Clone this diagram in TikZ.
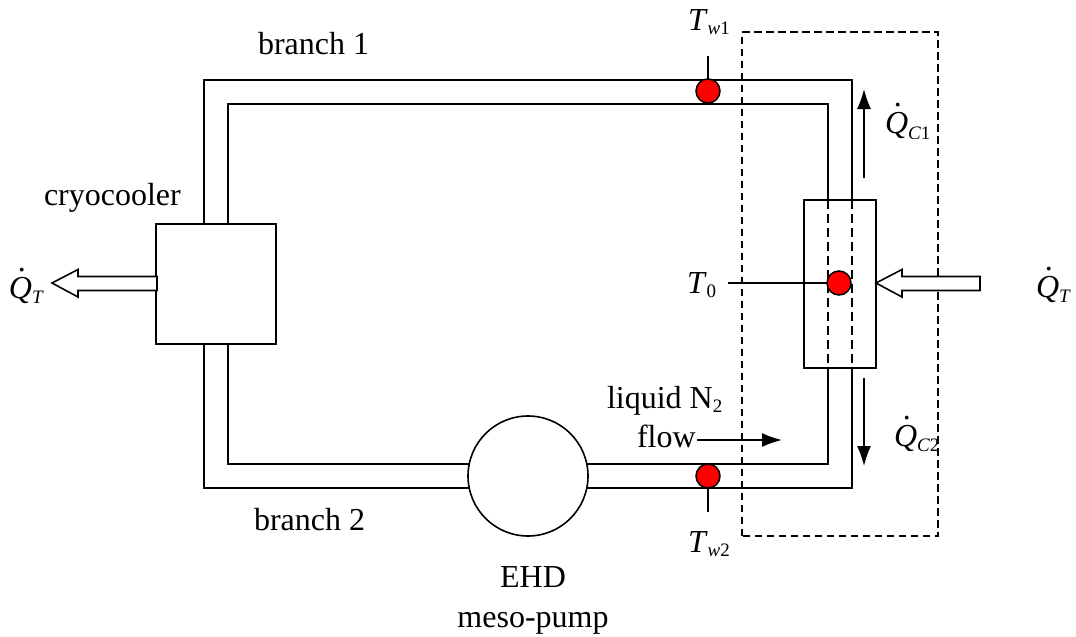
\documentclass[tikz,border=0pt]{standalone}
\usepackage{fontspec}
\setmainfont{Liberation Serif}
\usetikzlibrary{arrows.meta}
\newcommand{\subrun}[2]{\raisebox{-#1pt}{\fontsize{19}{19}\selectfont #2}}
\newcommand{\Qd}{\textit{\rlap{\hspace{.3em}\raisebox{.82em}{.}}Q}}
\tikzset{
  x=1pt,y=-1pt,
  pipe/.style={line width=1.7pt,line join=miter},
  hidden/.style={line width=1.5pt,dash pattern=on 9pt off 5pt},
  envelope/.style={line width=1.5pt,dash pattern=on 7.5pt off 4.5pt},
  block/.style={draw=black,line width=1.6pt,fill=white,minimum width=#1,inner sep=0pt,outer sep=0pt},
  sensor/.style={circle,draw=black,fill=red,line width=1.5pt,minimum size=24pt,inner sep=0pt,outer sep=0pt},
  lab/.style={inner sep=0pt,outer sep=0pt,anchor=base west,font=\fontsize{32}{32}\selectfont},
  labc/.style={inner sep=0pt,outer sep=0pt,anchor=base,font=\fontsize{32}{32}\selectfont},
  flowarrow/.style={line width=1.6pt,-{Latex[length=20pt,width=14pt]}},
  heatarrow/.style={draw=black,line width=1.6pt,fill=white,line join=miter}
}
\begin{document}
\begin{tikzpicture}
\useasboundingbox (0,0) rectangle (1076,637);
% outline nodes
\node[block=120pt,minimum height=120pt] (cryo) at (216,284) {};
\node[block=72pt,minimum height=168pt,fill=none] (hx) at (840,284) {};
% pipes
\coordinate (oul) at (204,224); \coordinate (oull) at (204,344);
\coordinate (iul) at (228,224); \coordinate (iull) at (228,344);
\draw[pipe] (oul) -- (204,80) -- (852,80) -- (852,200);
\draw[pipe] (iul) -- (228,104) -- (828,104) -- (828,200);
\draw[pipe] (oull) -- (204,488) -- (852,488) -- (852,368);
\draw[pipe] (iull) -- (228,464) -- (828,464) -- (828,368);
\draw[hidden] (828,200) -- (828,368);
\draw[hidden] (852,200) -- (852,368);
\node[block=120pt,circle] (pump) at (528,476) {};
% dashed envelope
\node[draw=none,inner sep=0pt,outer sep=0pt,minimum width=196pt,minimum height=504pt] (env) at (840,284) {};
\draw[envelope] (env.south west) rectangle (env.north east);
% heat arrows
\draw[heatarrow] (876,283) -- (902,269.5) -- (902,276.5) -- (980,276.5) -- (980,290.5) -- (902,290.5) -- (902,297) -- cycle;
\draw[heatarrow] (52,283) -- (78,269.5) -- (78,276.5) -- (157,276.5) -- (157,290.5) -- (78,290.5) -- (78,297) -- cycle;
% sensors
\node[sensor] (s1) at (708,91) {};
\node[sensor] (s2) at (708,476) {};
\node[sensor] (s0) at (839,283) {};
\coordinate (t1) at (708,56); \coordinate (t2) at (708,512); \coordinate (t0) at (728,283);
\draw[pipe] (t1) -- (s1);
\draw[pipe] (t2) -- (s2);
\draw[pipe] (t0) -- (s0);
% flow arrows
\coordinate (a1) at (864,178); \coordinate (a2) at (864,89);
\coordinate (b1) at (864,378); \coordinate (b2) at (864,466);
\coordinate (c1) at (697,440); \coordinate (c2) at (782,440);
\draw[flowarrow] (a1) -- (a2);
\draw[flowarrow] (b1) -- (b2);
\draw[flowarrow] (c1) -- (c2);
% labels
\node[lab] (l1) at (258,54) {branch 1};
\node[lab] (l2) at (254,530) {branch 2};
\node[lab] (l3) at (44,205) {cryocooler};
\node[labc] (l4) at (533,587) {EHD};
\node[labc] (l5) at (533,627) {meso-pump};
\node[lab] (l6) at (607,408) {liquid N\subrun{4}{2}};
\node[lab] (l7) at (637,447) {flow};
\node[lab] (l8) at (688,30) {\textit{T}\subrun{4}{\textit{w}1}};
\node[lab] (l9) at (688,552) {\textit{T}\subrun{4}{\textit{w}2}};
\node[lab] (l10) at (687,293) {\textit{T}\subrun{4}{0}};
\node[lab] (l11) at (9,298) {\Qd\subrun{5}{\textit{T}}};
\node[lab] (l12) at (1036,297) {\Qd\subrun{5}{\textit{T}}};
\node[lab] (l13) at (885,133) {\Qd\subrun{6}{\textit{C}1}};
\node[lab] (l14) at (894,446) {\Qd\subrun{5}{\textit{C}2}};
\end{tikzpicture}
\end{document}
